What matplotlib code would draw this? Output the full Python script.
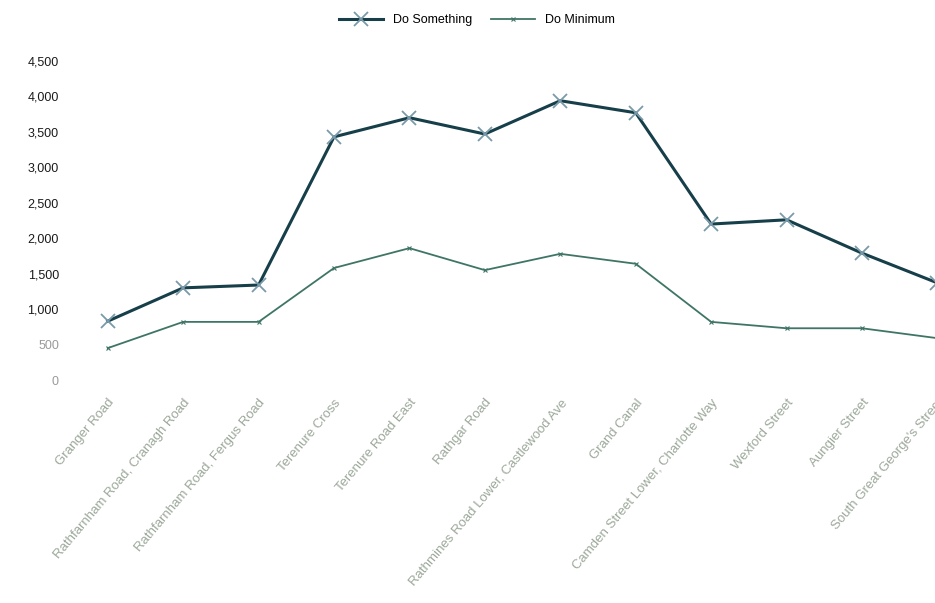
import matplotlib
matplotlib.use("Agg")
import matplotlib.pyplot as plt

# road segments along the route
roads = ["Granger Road", "Rathfarnham Road, Cranagh Road", "Rathfarnham Road, Fergus Road",
         "Terenure Cross", "Terenure Road East", "Rathgar Road",
         "Rathmines Road Lower, Castlewood Ave", "Grand Canal",
         "Camden Street Lower, Charlotte Way", "Wexford Street", "Aungier Street",
         "South Great George's Street"]
do_something = [830, 1300, 1340, 3430, 3700, 3470, 3940, 3770, 2200, 2260, 1790, 1370]
do_minimum = [450, 820, 820, 1580, 1860, 1550, 1780, 1640, 820, 730, 730, 590]
yticks = [0, 500, 1000, 1500, 2000, 2500, 3000, 3500, 4000, 4500]

plt.rcParams["font.family"] = ["Liberation Sans", "DejaVu Sans"]

fig = plt.figure(figsize=(9.35, 6.03), dpi=100)
# the chart is cut off on the right in the reference
ax = fig.add_axes([0.0749, 0.3698, 0.968, 0.529])

x = list(range(len(roads)))
ax.plot(x, do_something, color="#163f4a", lw=2.2, marker="x", ms=10, mew=1.3,
        mec="#7a9aaa", label="Do Something", zorder=3)
ax.plot(x, do_minimum, color="#3f7566", lw=1.3, marker="x", ms=3, mew=0.8,
        mec="#3f7566", label="Do Minimum", zorder=2)

ax.set_xlim(-0.5, len(roads) - 0.5)
ax.set_ylim(0, 4500)
ax.set_yticks(yticks)
ax.set_yticklabels([f"{v:,}" for v in yticks], fontsize=9)
for lab, v in zip(ax.get_yticklabels(), yticks):
    lab.set_color("#1a1a1a" if v >= 1000 else "#9a9a9a")

ax.set_xticks(x)
ax.set_xticklabels(roads, rotation=50, ha="right", rotation_mode="anchor",
                   fontsize=9.5, color="#9ca89a")
ax.tick_params(axis="y", length=0, pad=8)
ax.tick_params(axis="x", length=0, pad=12)
for s in ax.spines.values():
    s.set_visible(False)

fig.legend(loc="upper center", bbox_to_anchor=(0.51, 0.995), ncol=2, frameon=False,
           fontsize=9, handlelength=3.5, columnspacing=1.5)

fig.savefig("out.png", dpi=100)
